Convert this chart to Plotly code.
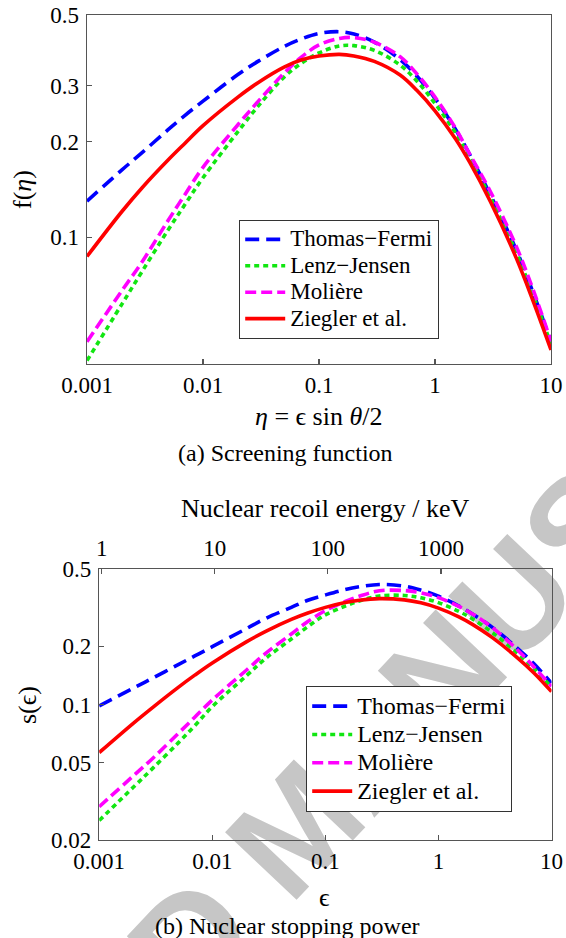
import math
import plotly.graph_objects as go

# ---------------- data ----------------
eta = [0.001, 0.002, 0.003, 0.005, 0.007, 0.01, 0.02, 0.03, 0.05, 0.07, 0.1,
       0.15, 0.2, 0.3, 0.5, 0.7, 1, 1.5, 2, 3, 5, 7, 10]
f_thomas_fermi = [0.130, 0.163, 0.185, 0.218, 0.242, 0.268, 0.325, 0.358, 0.398, 0.420, 0.4377,
                  0.443, 0.4359, 0.4109, 0.3624, 0.3211, 0.2734, 0.2188, 0.1816, 0.1361, 0.0917, 0.0672, 0.047]
f_lenz_jensen = [0.041, 0.0617, 0.0784, 0.1055, 0.127, 0.154, 0.215, 0.259, 0.319, 0.352, 0.380,
                 0.3996, 0.4005, 0.387, 0.348, 0.3097, 0.2637, 0.2134, 0.1776, 0.1333, 0.0898, 0.0659, 0.0461]
f_moliere = [0.047, 0.068, 0.084, 0.113, 0.1365, 0.166, 0.226, 0.268, 0.328, 0.368, 0.4025,
             0.422, 0.4246, 0.4106, 0.3698, 0.326, 0.2761, 0.2206, 0.182, 0.1394, 0.094, 0.0686, 0.0471]
f_ziegler = [0.0871, 0.1206, 0.1435, 0.175, 0.1977, 0.2245, 0.276, 0.307, 0.343, 0.361, 0.3715,
             0.376, 0.3718, 0.3574, 0.3237, 0.2894, 0.250, 0.2043, 0.1718, 0.1297, 0.0864, 0.0632, 0.0443]

eps = [0.001, 0.002, 0.003, 0.005, 0.007, 0.01, 0.02, 0.03, 0.05, 0.07, 0.1,
       0.15, 0.2, 0.3, 0.5, 0.7, 1, 1.5, 2, 3, 5, 7, 10]
s_thomas_fermi = [0.0983, 0.1213, 0.1372, 0.1606, 0.178, 0.1987, 0.246, 0.279, 0.317, 0.345, 0.3675,
                  0.392, 0.405, 0.416, 0.408, 0.389, 0.362, 0.323, 0.293, 0.250, 0.195, 0.162, 0.1287]
s_lenz_jensen = [0.0252, 0.0374, 0.0471, 0.0634, 0.0777, 0.0975, 0.1405, 0.1738, 0.2177, 0.2523, 0.290,
                 0.322, 0.342, 0.363, 0.365, 0.3552, 0.3355, 0.3032, 0.2765, 0.2351, 0.184, 0.153, 0.1226]
s_moliere = [0.0297, 0.0428, 0.053, 0.0709, 0.086, 0.1055, 0.1502, 0.1845, 0.231, 0.268, 0.305,
             0.340, 0.362, 0.386, 0.387, 0.3767, 0.3557, 0.3215, 0.2933, 0.2493, 0.1912, 0.1562, 0.124]
s_ziegler = [0.0565, 0.0800, 0.0970, 0.1226, 0.1417, 0.1638, 0.2105, 0.2391, 0.2746, 0.2963, 0.3169,
             0.3358, 0.3453, 0.3518, 0.3466, 0.3344, 0.3143, 0.2839, 0.2589, 0.2212, 0.1742, 0.1455, 0.1165]

series_names = ["Thomas\u2212Fermi", "Lenz\u2212Jensen", "Moli\u00e8re", "Ziegler et al."]

x_ticks = [0.001, 0.01, 0.1, 1, 10]
x_ticktext = ["0.001", "0.01", "0.1", "1", "10"]
f_ticks = [0.1, 0.2, 0.3, 0.5]
f_ticktext = ["0.1", "0.2", "0.3", "0.5"]
s_ticks = [0.02, 0.05, 0.1, 0.2, 0.5]
s_ticktext = ["0.02", "0.05", "0.1", "0.2", "0.5"]
energy_ticks = [1, 10, 100, 1000]
energy_ticktext = ["1", "10", "100", "1000"]
energy_per_eps = 1000  # keV per unit of reduced energy (top axis)

# ---------------- styling ----------------
colors = ["#0000ff", "#11e611", "#ff00ff", "#ff0000"]
dashes = ["14px,7px", "5px,4px", "11px,5px", "solid"]
SERIF = "Liberation Serif, Times New Roman, Tinos, Times, serif"
SANS = "Liberation Sans, Arial, Helvetica, sans-serif"
AX = "#555555"
W, H = 566, 938

fig = go.Figure()

top_sets = [f_thomas_fermi, f_lenz_jensen, f_moliere, f_ziegler]
bot_sets = [s_thomas_fermi, s_lenz_jensen, s_moliere, s_ziegler]

for name, ys, c, d in zip(series_names, top_sets, colors, dashes):
    fig.add_trace(go.Scatter(
        x=eta, y=ys, mode="lines", xaxis="x", yaxis="y",
        line=dict(color=c, width=3.6, dash=d, shape="spline", smoothing=1.0),
        name='<span style="font-size:23px">%s</span>' % name,
        legend="legend", hoverinfo="skip"))

for name, ys, c, d in zip(series_names, bot_sets, colors, dashes):
    fig.add_trace(go.Scatter(
        x=eps, y=ys, mode="lines", xaxis="x2", yaxis="y2",
        line=dict(color=c, width=3.6, dash=d, shape="spline", smoothing=1.0),
        name='<span style="font-size:24px">%s</span>' % name,
        legend="legend2", hoverinfo="skip"))

# invisible trace that carries the recoil-energy axis
fig.add_trace(go.Scatter(
    x=[e * energy_per_eps for e in eps], y=s_ziegler, mode="lines",
    xaxis="x3", yaxis="y2", opacity=0, showlegend=False, hoverinfo="skip",
    line=dict(width=0)))

tickfont = dict(family=SERIF, size=23, color="black")
common_axis = dict(type="log", showline=True, linecolor=AX, linewidth=1.4,
                   ticks="inside", ticklen=5, tickwidth=1.2, tickcolor=AX,
                   showgrid=False, zeroline=False, tickfont=tickfont, automargin=False)

fig.update_layout(
    width=W, height=H,
    margin=dict(l=0, r=0, t=0, b=0, pad=0, autoexpand=False),
    paper_bgcolor="white", plot_bgcolor="rgba(0,0,0,0)",
    font=dict(family=SERIF, color="black"),
    xaxis=dict(**common_axis, domain=[87 / W, 551 / W], anchor="y",
               range=[-3, 1], mirror=True, tickvals=x_ticks, ticktext=x_ticktext,
               ticklabelstandoff=0),
    yaxis=dict(**common_axis, domain=[1 - 364 / H, 1 - 15 / H], anchor="x",
               range=[math.log10(0.04), math.log10(0.5)], mirror=True,
               tickvals=f_ticks, ticktext=f_ticktext, ticklabelstandoff=2),
    xaxis2=dict(**common_axis, domain=[99.2 / W, 551.5 / W], anchor="y2",
                range=[-3, 1], mirror=True, tickvals=x_ticks, ticktext=x_ticktext,
                ticklabelstandoff=0),
    yaxis2=dict(**common_axis, domain=[1 - 840 / H, 1 - 569 / H], anchor="x2",
                range=[math.log10(0.02), math.log10(0.5)], mirror=True,
                tickvals=s_ticks, ticktext=s_ticktext, ticklabelstandoff=2),
    xaxis3=dict(type="log", overlaying="x2", side="top", anchor="y2", automargin=False,
                range=[-0.022, 3.978], showline=False, showgrid=False, zeroline=False,
                ticks="inside", ticklen=5, tickwidth=1.2, tickcolor=AX,
                tickvals=energy_ticks, ticktext=energy_ticktext, tickfont=tickfont,
                ticklabelstandoff=7),
    legend=dict(x=239 / W, y=1 - 220 / H, xanchor="left", yanchor="top",
                bgcolor="white", bordercolor="#333333", borderwidth=1.2,
                font=dict(family=SERIF, size=18, color="black"),
                itemwidth=40, tracegroupgap=0),
    legend2=dict(x=306 / W, y=1 - 685.7 / H, xanchor="left", yanchor="top",
                 bgcolor="white", bordercolor="#333333", borderwidth=1.2,
                 font=dict(family=SERIF, size=19.5, color="black"),
                 itemwidth=40, tracegroupgap=0),
)

def note(text, px, py, size, angle=0, family=SERIF):
    fig.add_annotation(text=text, x=px / W, y=1 - py / H, xref="paper", yref="paper",
                       showarrow=False, textangle=angle, xanchor="center", yanchor="middle",
                       font=dict(family=family, size=size, color="black"))

note("<i>\u03b7</i> = \u03f5 sin <i>\u03b8</i>/2", 318.5, 417, 26)
note("f(<i>\u03b7</i>)", 22, 190, 26, angle=-90)
note("(a) Screening function", 285, 453, 24)
note("Nuclear recoil energy / keV", 325, 508, 26)
note("\u03f5", 324, 897, 26)
note("s(\u03f5)", 27, 705, 26, angle=-90)
note("(b) Nuclear stopping power", 287, 926, 24)

# page watermark (drawn underneath the plots)
cx, cy, ang = 287.5, 817.0, math.radians(46.6)
dx, dy = 100 * math.cos(ang), 100 * math.sin(ang)
fig.add_shape(type="line", xref="paper", yref="paper", layer="below",
              x0=(cx - dx) / W, y0=1 - (cy + dy) / H, x1=(cx + dx) / W, y1=1 - (cy - dy) / H,
              line=dict(color="rgba(0,0,0,0)", width=0),
              label=dict(text="ACCEPTED MANUSCRIPT", textposition="middle", yanchor="middle",
                         font=dict(family=SANS, size=143, color="#c6c6c6", weight="bold")))

fig.write_html(
    "out.html",
    config={"displayModeBar": False, "staticPlot": True},
    post_script="document.body.style.margin='0';"
                "document.documentElement.style.overflow='hidden';")
